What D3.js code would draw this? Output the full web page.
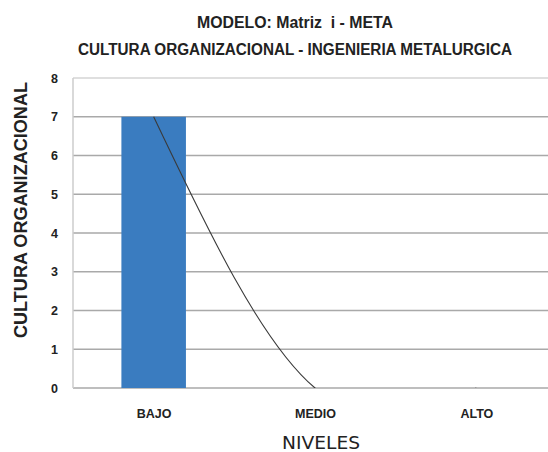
<!DOCTYPE html>
<html><head><meta charset="utf-8">
<script src="https://cdn.jsdelivr.net/npm/d3@7"></script>
<style>html,body{margin:0;padding:0;background:#fff}svg{display:block}text{white-space:pre}</style>
</head><body>
<svg id="c" width="548" height="452"></svg>
<script>
const categories = ["BAJO", "MEDIO", "ALTO"];
const barValues = [7, 0, 0];
const lineValues = [7, 0, 0];
const yTicks = [0, 1, 2, 3, 4, 5, 6, 7, 8];
const titleLines = ["MODELO: Matriz  i - META", "CULTURA ORGANIZACIONAL - INGENIERIA METALURGICA"];
const yTitle = "CULTURA ORGANIZACIONAL";
const xTitle = "NIVELES";

(function () {
const svg = d3.select("#c");
const W = 548, H = 452;
const pL = 73, pT = 78, pB = 388, pR = 557;
const font = "'Liberation Sans', Arial, sans-serif";

const x = d3.scalePoint().domain(categories).range([pL, pR]).padding(0.5);
const y = d3.scaleLinear().domain([0, 8]).range([pB, pT]);
const barW = x.step() * 0.4;

svg.append("rect").attr("width", W).attr("height", H).attr("fill", "#fff");

// gridlines
svg.append("g").selectAll("line").data(yTicks).join("line")
  .attr("x1", pL).attr("x2", W)
  .attr("y1", d => y(d)).attr("y2", d => y(d))
  .attr("stroke", d => d === 8 ? "#d4d4d4" : "#a9a9a9")
  .attr("stroke-width", 1.6);
// y axis line
svg.append("line").attr("x1", pL).attr("x2", pL).attr("y1", pT).attr("y2", pB)
  .attr("stroke", "#cccccc").attr("stroke-width", 1.5);

// y tick labels
const yAxis = d3.axisLeft(y).tickValues(yTicks).tickSize(0).tickPadding(15).tickFormat(d3.format("d"));
const ga = svg.append("g").attr("transform", `translate(${pL},0)`).call(yAxis);
ga.select(".domain").remove();
ga.selectAll("text").attr("font-family", font).attr("font-weight", "bold").attr("font-size", 12.5).attr("fill", "#222");

// bars
svg.append("g").selectAll("rect").data(categories.map((c, i) => ({c, v: barValues[i]}))).join("rect")
  .attr("x", d => x(d.c) - barW / 2).attr("width", barW)
  .attr("y", d => y(d.v)).attr("height", d => y(0) - y(d.v))
  .attr("fill", "#3a7cc0");

// clip for line
svg.append("clipPath").attr("id", "clip").append("rect")
  .attr("x", pL).attr("y", pT).attr("width", W - pL).attr("height", pB - pT);
const line = d3.line().x((d, i) => x(categories[i])).y(d => y(d)).curve(d3.curveNatural);
svg.append("path").datum(lineValues).attr("d", line)
  .attr("fill", "none").attr("stroke", "#3a3a3a").attr("stroke-width", 1.1)
  .attr("clip-path", "url(#clip)");

// x axis labels
const xAxis = d3.axisBottom(x).tickSize(0).tickPadding(21);
const gx = svg.append("g").attr("transform", `translate(0,${pB})`).call(xAxis);
gx.select(".domain").remove();
gx.selectAll("text").attr("font-family", font).attr("font-weight", "bold").attr("font-size", 12.5).attr("fill", "#222");

// titles
svg.append("text").attr("x", 295).attr("y", 28).attr("text-anchor", "middle")
  .attr("font-family", font).attr("font-weight", "bold").attr("font-size", 16).attr("fill", "#222")
  .attr("textLength", 196).attr("lengthAdjust", "spacingAndGlyphs").text(titleLines[0]);
svg.append("text").attr("x", 295).attr("y", 55).attr("text-anchor", "middle")
  .attr("font-family", font).attr("font-weight", "bold").attr("font-size", 16).attr("fill", "#222")
  .attr("textLength", 434).attr("lengthAdjust", "spacingAndGlyphs").text(titleLines[1]);

// y title
svg.append("text").attr("transform", "translate(27,210) rotate(-90)").attr("text-anchor", "middle")
  .attr("font-family", font).attr("font-weight", "bold").attr("font-size", 17.5).attr("fill", "#222")
  .attr("textLength", 256).attr("lengthAdjust", "spacingAndGlyphs").text(yTitle);

// x title
svg.append("text").attr("x", 321).attr("y", 449).attr("text-anchor", "middle")
  .attr("font-family", "'DejaVu Sans', Verdana, sans-serif").attr("font-size", 17).attr("fill", "#222")
  .attr("textLength", 78).attr("lengthAdjust", "spacingAndGlyphs").text(xTitle);
})();
</script>
</body></html>
